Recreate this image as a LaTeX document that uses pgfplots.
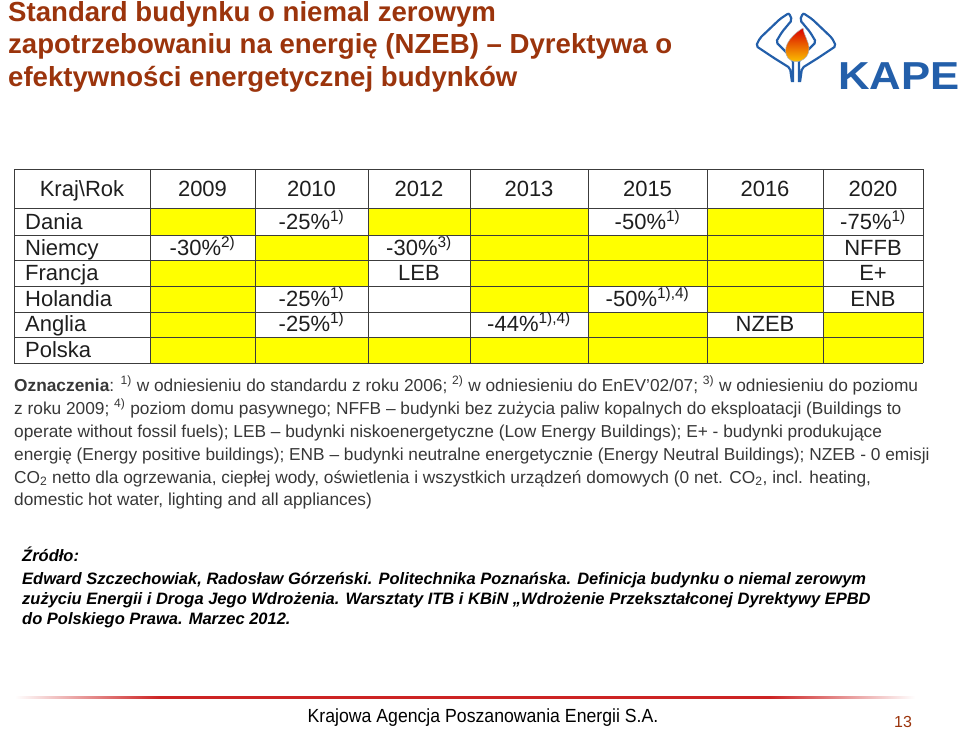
\documentclass[border=0pt]{standalone}
\usepackage{pgfplots}
\pgfplotsset{compat=1.18}
\usepackage{fontspec}
\setmainfont{Liberation Sans}
\definecolor{titlec}{RGB}{155,52,12}
\definecolor{cellyellow}{RGB}{255,255,0}
\definecolor{gridc}{RGB}{60,60,60}
\definecolor{txt}{RGB}{30,30,30}
\definecolor{notec}{RGB}{55,55,55}
\definecolor{kapeblue}{RGB}{35,95,170}
\definecolor{footred}{RGB}{205,35,35}
\newcommand\fs[1]{\fontsize{#1}{#1}\selectfont}
\newcommand\su[1]{\textsuperscript{#1}}
\newcommand\ycell[4]{\addplot[fill=cellyellow,draw=none] coordinates {(#1,#2) (#3,#2) (#3,#4) (#1,#4)} --cycle;}
\begin{document}
\begin{tikzpicture}
\begin{axis}[width=960pt,height=731pt,scale only axis,xmin=0,xmax=960,ymin=0,ymax=731,
  y dir=reverse,hide axis,clip=false]
\path (axis cs:0,0) rectangle (axis cs:960,731);
% ---------- title
\node[anchor=base west,inner sep=0,text=titlec,font=\fs{27.6}\bfseries] at (axis cs:8,21) {Standard budynku o niemal zerowym};
\node[anchor=base west,inner sep=0,text=titlec,font=\fs{27.6}\bfseries] at (axis cs:8,53.5) {zapotrzebowaniu na energię (NZEB) – Dyrektywa o};
\node[anchor=base west,inner sep=0,text=titlec,font=\fs{27.6}\bfseries] at (axis cs:8,86) {efektywności energetycznej budynków};
% ---------- logo
\draw[kapeblue,line width=2.2pt,rounded corners=2pt] (axis cs:792,82) -- (axis cs:790,68) -- (axis cs:774,58) -- (axis cs:756,46) -- (axis cs:760,38) -- (axis cs:780,19) -- (axis cs:789,13) -- (axis cs:792,20) -- (axis cs:782,32) -- (axis cs:776,42) -- (axis cs:786,52) -- (axis cs:793,60) -- (axis cs:793,82);
\draw[kapeblue,line width=2.2pt,rounded corners=2pt] (axis cs:800,82) -- (axis cs:802,68) -- (axis cs:818,58) -- (axis cs:836,46) -- (axis cs:832,38) -- (axis cs:812,19) -- (axis cs:803,13) -- (axis cs:800,20) -- (axis cs:810,32) -- (axis cs:816,42) -- (axis cs:806,52) -- (axis cs:799,60) -- (axis cs:799,82);
\shade[top color=red!85!black,bottom color=yellow!70!orange,draw=gray!60,line width=0.5pt] (axis cs:803,28) .. controls (axis cs:787,38) and (axis cs:782,50) .. (axis cs:788,58) .. controls (axis cs:795,66) and (axis cs:809,60) .. (axis cs:809,49) .. controls (axis cs:809,41) and (axis cs:804,36) .. (axis cs:803,28);
\node[anchor=base west,inner sep=0,text=kapeblue] at (axis cs:838,89) {\scalebox{1.12}[1]{\fs{39}\bfseries KAPE}};
% ---------- table: yellow cells
% columns: 150 255 368 470 588 707 823 923 ; rows: 208 235 260 286 312 337 363
% Dania
\ycell{150}{208}{255}{235}
\ycell{368}{208}{470}{235}
\ycell{470}{208}{588}{235}
\ycell{707}{208}{823}{235}
% Niemcy
\ycell{255}{235}{368}{260}
\ycell{470}{235}{588}{260}
\ycell{588}{235}{707}{260}
\ycell{707}{235}{823}{260}
% Francja
\ycell{150}{260}{255}{286}
\ycell{255}{260}{368}{286}
\ycell{470}{260}{588}{286}
\ycell{588}{260}{707}{286}
\ycell{707}{260}{823}{286}
% Holandia
\ycell{150}{286}{255}{312}
\ycell{470}{286}{588}{312}
\ycell{707}{286}{823}{312}
% Anglia
\ycell{150}{312}{255}{337}
\ycell{588}{312}{707}{337}
\ycell{823}{312}{923}{337}
% Polska
\ycell{150}{337}{923}{363}
% grid
\foreach \yy in {169,208,235,260,286,312,337,363}{\edef\tmp{\noexpand\draw[gridc,line width=1pt] (axis cs:14,\yy) -- (axis cs:923,\yy);}\tmp}
\foreach \xx in {14,150,255,368,470,588,707,823,923}{\edef\tmp{\noexpand\draw[gridc,line width=1pt] (axis cs:\xx,169) -- (axis cs:\xx,363);}\tmp}
% header
\begin{scope}[every node/.style={anchor=base,inner sep=0,text=txt,font=\fs{22}}]
\node at (axis cs:82,196) {Kraj\textbackslash Rok};
\node at (axis cs:202.5,196) {2009};
\node at (axis cs:311.5,196) {2010};
\node at (axis cs:419,196) {2012};
\node at (axis cs:529,196) {2013};
\node at (axis cs:647.5,196) {2015};
\node at (axis cs:765,196) {2016};
\node at (axis cs:873,196) {2020};
% cells
\node at (axis cs:311.5,229) {-25\%\su{1)}};
\node at (axis cs:647.5,229) {-50\%\su{1)}};
\node at (axis cs:873,229) {-75\%\su{1)}};
\node at (axis cs:202.5,255) {-30\%\su{2)}};
\node at (axis cs:419,255) {-30\%\su{3)}};
\node at (axis cs:873,255) {NFFB};
\node at (axis cs:419,280) {LEB};
\node at (axis cs:873,280) {E+};
\node at (axis cs:311.5,306) {-25\%\su{1)}};
\node at (axis cs:647.5,306) {-50\%\su{1),4)}};
\node at (axis cs:873,306) {ENB};
\node at (axis cs:311.5,331) {-25\%\su{1)}};
\node at (axis cs:529,331) {-44\%\su{1),4)}};
\node at (axis cs:765,331) {NZEB};
\end{scope}
\begin{scope}[every node/.style={anchor=base west,inner sep=0,text=txt,font=\fs{22}}]
\node at (axis cs:25,229) {Dania};
\node at (axis cs:25,255) {Niemcy};
\node at (axis cs:25,280) {Francja};
\node at (axis cs:25,306) {Holandia};
\node at (axis cs:25,331) {Anglia};
\node at (axis cs:25,357) {Polska};
\end{scope}
% ---------- notes
\begin{scope}[every node/.style={anchor=base west,inner sep=0,text=notec,font=\fs{17.3}}]
\node at (axis cs:14,391) {\textbf{Oznaczenia}: \su{1)} w odniesieniu do standardu z roku 2006; \su{2)} w odniesieniu do EnEV’02/07; \su{3)} w odniesieniu do poziomu};
\node at (axis cs:14,414) {z roku 2009; \su{4)} poziom domu pasywnego; NFFB – budynki bez zużycia paliw kopalnych do eksploatacji (Buildings to};
\node at (axis cs:14,437) {operate without fossil fuels); LEB – budynki niskoenergetyczne (Low Energy Buildings); E+ - budynki produkujące};
\node at (axis cs:14,460) {energię (Energy positive buildings); ENB – budynki neutralne energetycznie (Energy Neutral Buildings); NZEB - 0 emisji};
\node at (axis cs:14,483) {CO\textsubscript{2} netto dla ogrzewania, ciepłej wody, oświetlenia i wszystkich urządzeń domowych (0 net. CO\textsubscript{2}, incl. heating,};
\node at (axis cs:14,505) {domestic hot water, lighting and all appliances)};
\end{scope}
% ---------- source
\begin{scope}[every node/.style={anchor=base west,inner sep=0,text=black,font=\fs{16.5}\bfseries\itshape}]
\node at (axis cs:22,561) {Źródło:};
\node at (axis cs:22,584) {Edward Szczechowiak, Radosław Górzeński. Politechnika Poznańska. Definicja budynku o niemal zerowym};
\node at (axis cs:22,604) {zużyciu Energii i Droga Jego Wdrożenia. Warsztaty ITB i KBiN „Wdrożenie Przekształconej Dyrektywy EPBD};
\node at (axis cs:22,624) {do Polskiego Prawa. Marzec 2012.};
\end{scope}
% ---------- footer
\shade[left color=white,right color=footred] (axis cs:15,696) rectangle (axis cs:160,698.5);
\fill[footred] (axis cs:160,696) rectangle (axis cs:770,698.5);
\shade[left color=footred,right color=white] (axis cs:770,696) rectangle (axis cs:915,698.5);
\node[anchor=base,inner sep=0,text=black] at (axis cs:483,722) {\scalebox{0.93}[1]{\fs{19}Krajowa Agencja Poszanowania Energii S.A.}};
\node[anchor=base,inner sep=0,text=titlec,font=\fs{16}] at (axis cs:903,727) {13};
\end{axis}
\end{tikzpicture}
\end{document}
